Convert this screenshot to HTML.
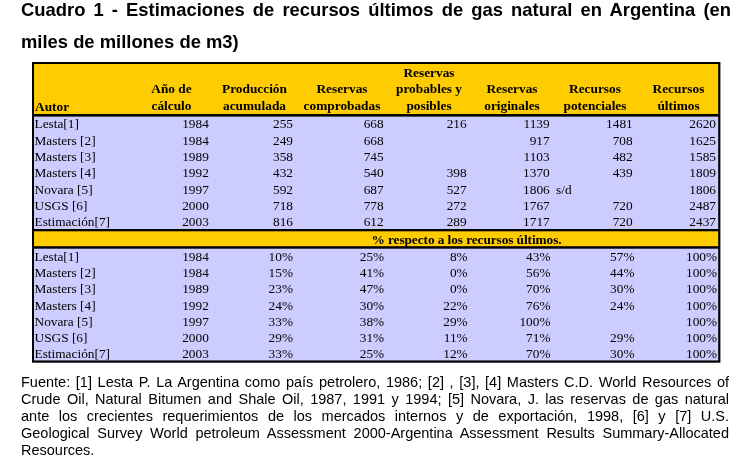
<!DOCTYPE html>
<html lang="es">
<head>
<meta charset="utf-8">
<title>Cuadro 1 - Estimaciones de recursos últimos de gas natural en Argentina</title>
<style>
  html, body { margin: 0; padding: 0; background: #ffffff; }
  body { width: 744px; height: 467px; position: relative; overflow: hidden;
         font-family: "Liberation Sans", Arial, sans-serif; color: #000; }

  /* ---------- title ---------- */
  .title { position: absolute; left: 21px; top: 0; width: 710px; margin: 0;
           font-family: "Liberation Sans", Arial, sans-serif; font-weight: bold;
           font-size: 18.4px; line-height: 31.5px; color: #000; }
  .title span { display: block; white-space: nowrap; }
  .title .j { text-align: justify; text-align-last: justify; }
  .title .l1 { position: absolute; left: 0; top: -5.6px; width: 710px; }
  .title .l2 { position: absolute; left: 0; top: 25.9px; }

  /* ---------- table ---------- */
  .grid { position: absolute; left: 0; top: 0; width: 744px; height: 467px; display: block; }
  .frame { position: absolute; left: 32px; top: 62px; width: 688px; height: 300.5px; }
  table.cuadro { position: absolute; left: 2px; top: 2px; width: 684px;
                 border-collapse: separate; border-spacing: 0; table-layout: fixed;
                 font-family: "Liberation Serif", "Times New Roman", serif;
                 font-size: 13.33px; color: #000; }
  table.cuadro td, table.cuadro th { padding: 0; margin: 0; border: 0; overflow: visible;
                 white-space: nowrap; }
  table.cuadro thead th { height: 50.5px; vertical-align: bottom;
                 font-weight: bold; text-align: center; line-height: 16.5px;
                 padding: 0 0 0.5px 5px; box-sizing: border-box; }
  table.cuadro thead th.autor { text-align: left; padding-left: 1px; }
  table.cuadro thead th.autor span { position: relative; top: 1.5px; }
  table.cuadro tbody td { height: 16px; line-height: 14.4px;
                 text-align: right; padding-right: 2px; vertical-align: top; box-sizing: border-box; }
  table.cuadro tbody td.a { text-align: left; padding: 0 0 0 0.5px; }
  table.cuadro tbody td.l { text-align: left; padding: 0 0 0 5px; }
  table.cuadro tbody tr.h17 td { height: 17px; }
  table.cuadro tbody tr.h165 td { height: 16.5px; }
  table.cuadro tbody tr.h15 td { height: 14.7px; }
  table.cuadro tbody tr.h14 td { height: 14px; line-height: 14px; }
  table.cuadro tbody tr.p05 td { height: 17.7px; padding-top: 1.7px; }
  table.cuadro tbody td:nth-child(3) { padding-right: 1px; }
  table.cuadro tbody td:nth-child(4), table.cuadro tbody td:nth-child(5),
  table.cuadro tbody td:nth-child(6), table.cuadro tbody td:nth-child(7) { padding-right: 1.3px; }
  table.cuadro tbody td:nth-child(2) { padding-right: 1.2px; }
  table.cuadro tbody tr.pc td { position: relative; }
  table.cuadro tbody tr.pc td:nth-child(4) { left: 0.5px; }
  table.cuadro tbody tr.pc td:nth-child(5) { left: 1px; }
  table.cuadro tbody tr.pc td:nth-child(6) { left: 0.8px; }
  table.cuadro tbody tr.pc td:nth-child(7) { left: 1.8px; }
  table.cuadro tbody tr.pc td:nth-child(8) { left: 1.1px; }
  table.cuadro tr.sep td { height: 2px; line-height: 0; font-size: 0; padding: 0; }
  table.cuadro tr.sep.s25 td { height: 2.4px; }
  table.cuadro tr.band td { height: 14.7px; line-height: 14.5px;
                 font-weight: bold; text-align: left; padding: 0; letter-spacing: -0.08px; }
  table.cuadro tr.band td.txt { padding: 2px 0 0 77.5px; line-height: 12.5px; position: relative; top: 1.3px; }

  /* ---------- footer ---------- */
  .fuente { position: absolute; left: 21px; top: 374px; width: 708px; margin: 0;
            font-family: "Liberation Sans", Arial, sans-serif; font-size: 14.5px;
            line-height: 17.1px; color: #000; }
  .fuente span { display: block; white-space: nowrap; }
  .fuente .j { text-align: justify; text-align-last: justify; }
</style>
</head>
<body>

<h1 class="title">
  <span class="l1 j">Cuadro 1 - Estimaciones de recursos últimos de gas natural en Argentina (en</span>
  <span class="l2">miles de millones de m3)</span>
</h1>

<svg class="grid" width="744" height="467" viewBox="0 0 744 467" aria-hidden="true">
  <rect x="32" y="62" width="688.4" height="300.7" fill="#000000"/>
  <rect x="34" y="64" width="684.2" height="50" fill="#ffcc00"/>
  <rect x="34" y="116.6" width="684.2" height="112.4" fill="#ccccff"/>
  <rect x="34" y="231.3" width="684.2" height="14.9" fill="#ffcc00"/>
  <rect x="34" y="248.7" width="684.2" height="111.75" fill="#ccccff"/>
</svg>

<div class="frame">
<table class="cuadro">
  <colgroup>
    <col style="width:94px"><col style="width:82px"><col style="width:84px"><col style="width:91px">
    <col style="width:83px"><col style="width:83px"><col style="width:83px"><col style="width:84px">
  </colgroup>
  <thead>
    <tr>
      <th class="autor"><span>Autor</span></th>
      <th>Año de<br>cálculo</th>
      <th>Producción<br>acumulada</th>
      <th>Reservas<br>comprobadas</th>
      <th>Reservas<br>probables y<br>posibles</th>
      <th>Reservas<br>originales</th>
      <th>Recursos<br>potenciales</th>
      <th>Recursos<br>últimos</th>
    </tr>
  </thead>
  <tbody>
    <tr class="sep"><td colspan="8"></td></tr>
    <tr class="h17"><td class="a">Lesta[1]</td><td>1984</td><td>255</td><td>668</td><td>216</td><td>1139</td><td>1481</td><td>2620</td></tr>
    <tr><td class="a">Masters [2]</td><td>1984</td><td>249</td><td>668</td><td></td><td>917</td><td>708</td><td>1625</td></tr>
    <tr><td class="a">Masters [3]</td><td>1989</td><td>358</td><td>745</td><td></td><td>1103</td><td>482</td><td>1585</td></tr>
    <tr class="h17"><td class="a">Masters [4]</td><td>1992</td><td>432</td><td>540</td><td>398</td><td>1370</td><td>439</td><td>1809</td></tr>
    <tr><td class="a">Novara [5]</td><td>1997</td><td>592</td><td>687</td><td>527</td><td>1806</td><td class="l">s/d</td><td>1806</td></tr>
    <tr><td class="a">USGS [6]</td><td>2000</td><td>718</td><td>778</td><td>272</td><td>1767</td><td>720</td><td>2487</td></tr>
    <tr class="h15"><td class="a">Estimación[7]</td><td>2003</td><td>816</td><td>612</td><td>289</td><td>1717</td><td>720</td><td>2437</td></tr>
    <tr class="sep"><td colspan="8"></td></tr>
    <tr class="band"><td colspan="3"></td><td colspan="5" class="txt">% respecto a los recursos últimos.</td></tr>
    <tr class="sep s25"><td colspan="8"></td></tr>
    <tr class="p05 pc"><td class="a">Lesta[1]</td><td>1984</td><td>10%</td><td>25%</td><td>8%</td><td>43%</td><td>57%</td><td>100%</td></tr>
    <tr class="pc"><td class="a">Masters [2]</td><td>1984</td><td>15%</td><td>41%</td><td>0%</td><td>56%</td><td>44%</td><td>100%</td></tr>
    <tr class="h17 pc"><td class="a">Masters [3]</td><td>1989</td><td>23%</td><td>47%</td><td>0%</td><td>70%</td><td>30%</td><td>100%</td></tr>
    <tr class="pc"><td class="a">Masters [4]</td><td>1992</td><td>24%</td><td>30%</td><td>22%</td><td>76%</td><td>24%</td><td>100%</td></tr>
    <tr class="pc"><td class="a">Novara [5]</td><td>1997</td><td>33%</td><td>38%</td><td>29%</td><td>100%</td><td></td><td>100%</td></tr>
    <tr class="pc"><td class="a">USGS [6]</td><td>2000</td><td>29%</td><td>31%</td><td>11%</td><td>71%</td><td>29%</td><td>100%</td></tr>
    <tr class="h14 pc"><td class="a">Estimación[7]</td><td>2003</td><td>33%</td><td>25%</td><td>12%</td><td>70%</td><td>30%</td><td>100%</td></tr>
  </tbody>
</table>
</div>

<p class="fuente">
  <span class="j">Fuente: [1] Lesta P. La Argentina como país petrolero, 1986; [2] , [3], [4] Masters C.D. World Resources of</span>
  <span class="j">Crude Oil, Natural Bitumen and Shale Oil, 1987, 1991 y 1994; [5] Novara, J. las reservas de gas natural</span>
  <span class="j">ante los crecientes requerimientos de los mercados internos y de exportación, 1998, [6] y [7] U.S.</span>
  <span class="j">Geological Survey World petroleum Assessment 2000-Argentina Assessment Results Summary-Allocated</span>
  <span>Resources.</span>
</p>

</body>
</html>
